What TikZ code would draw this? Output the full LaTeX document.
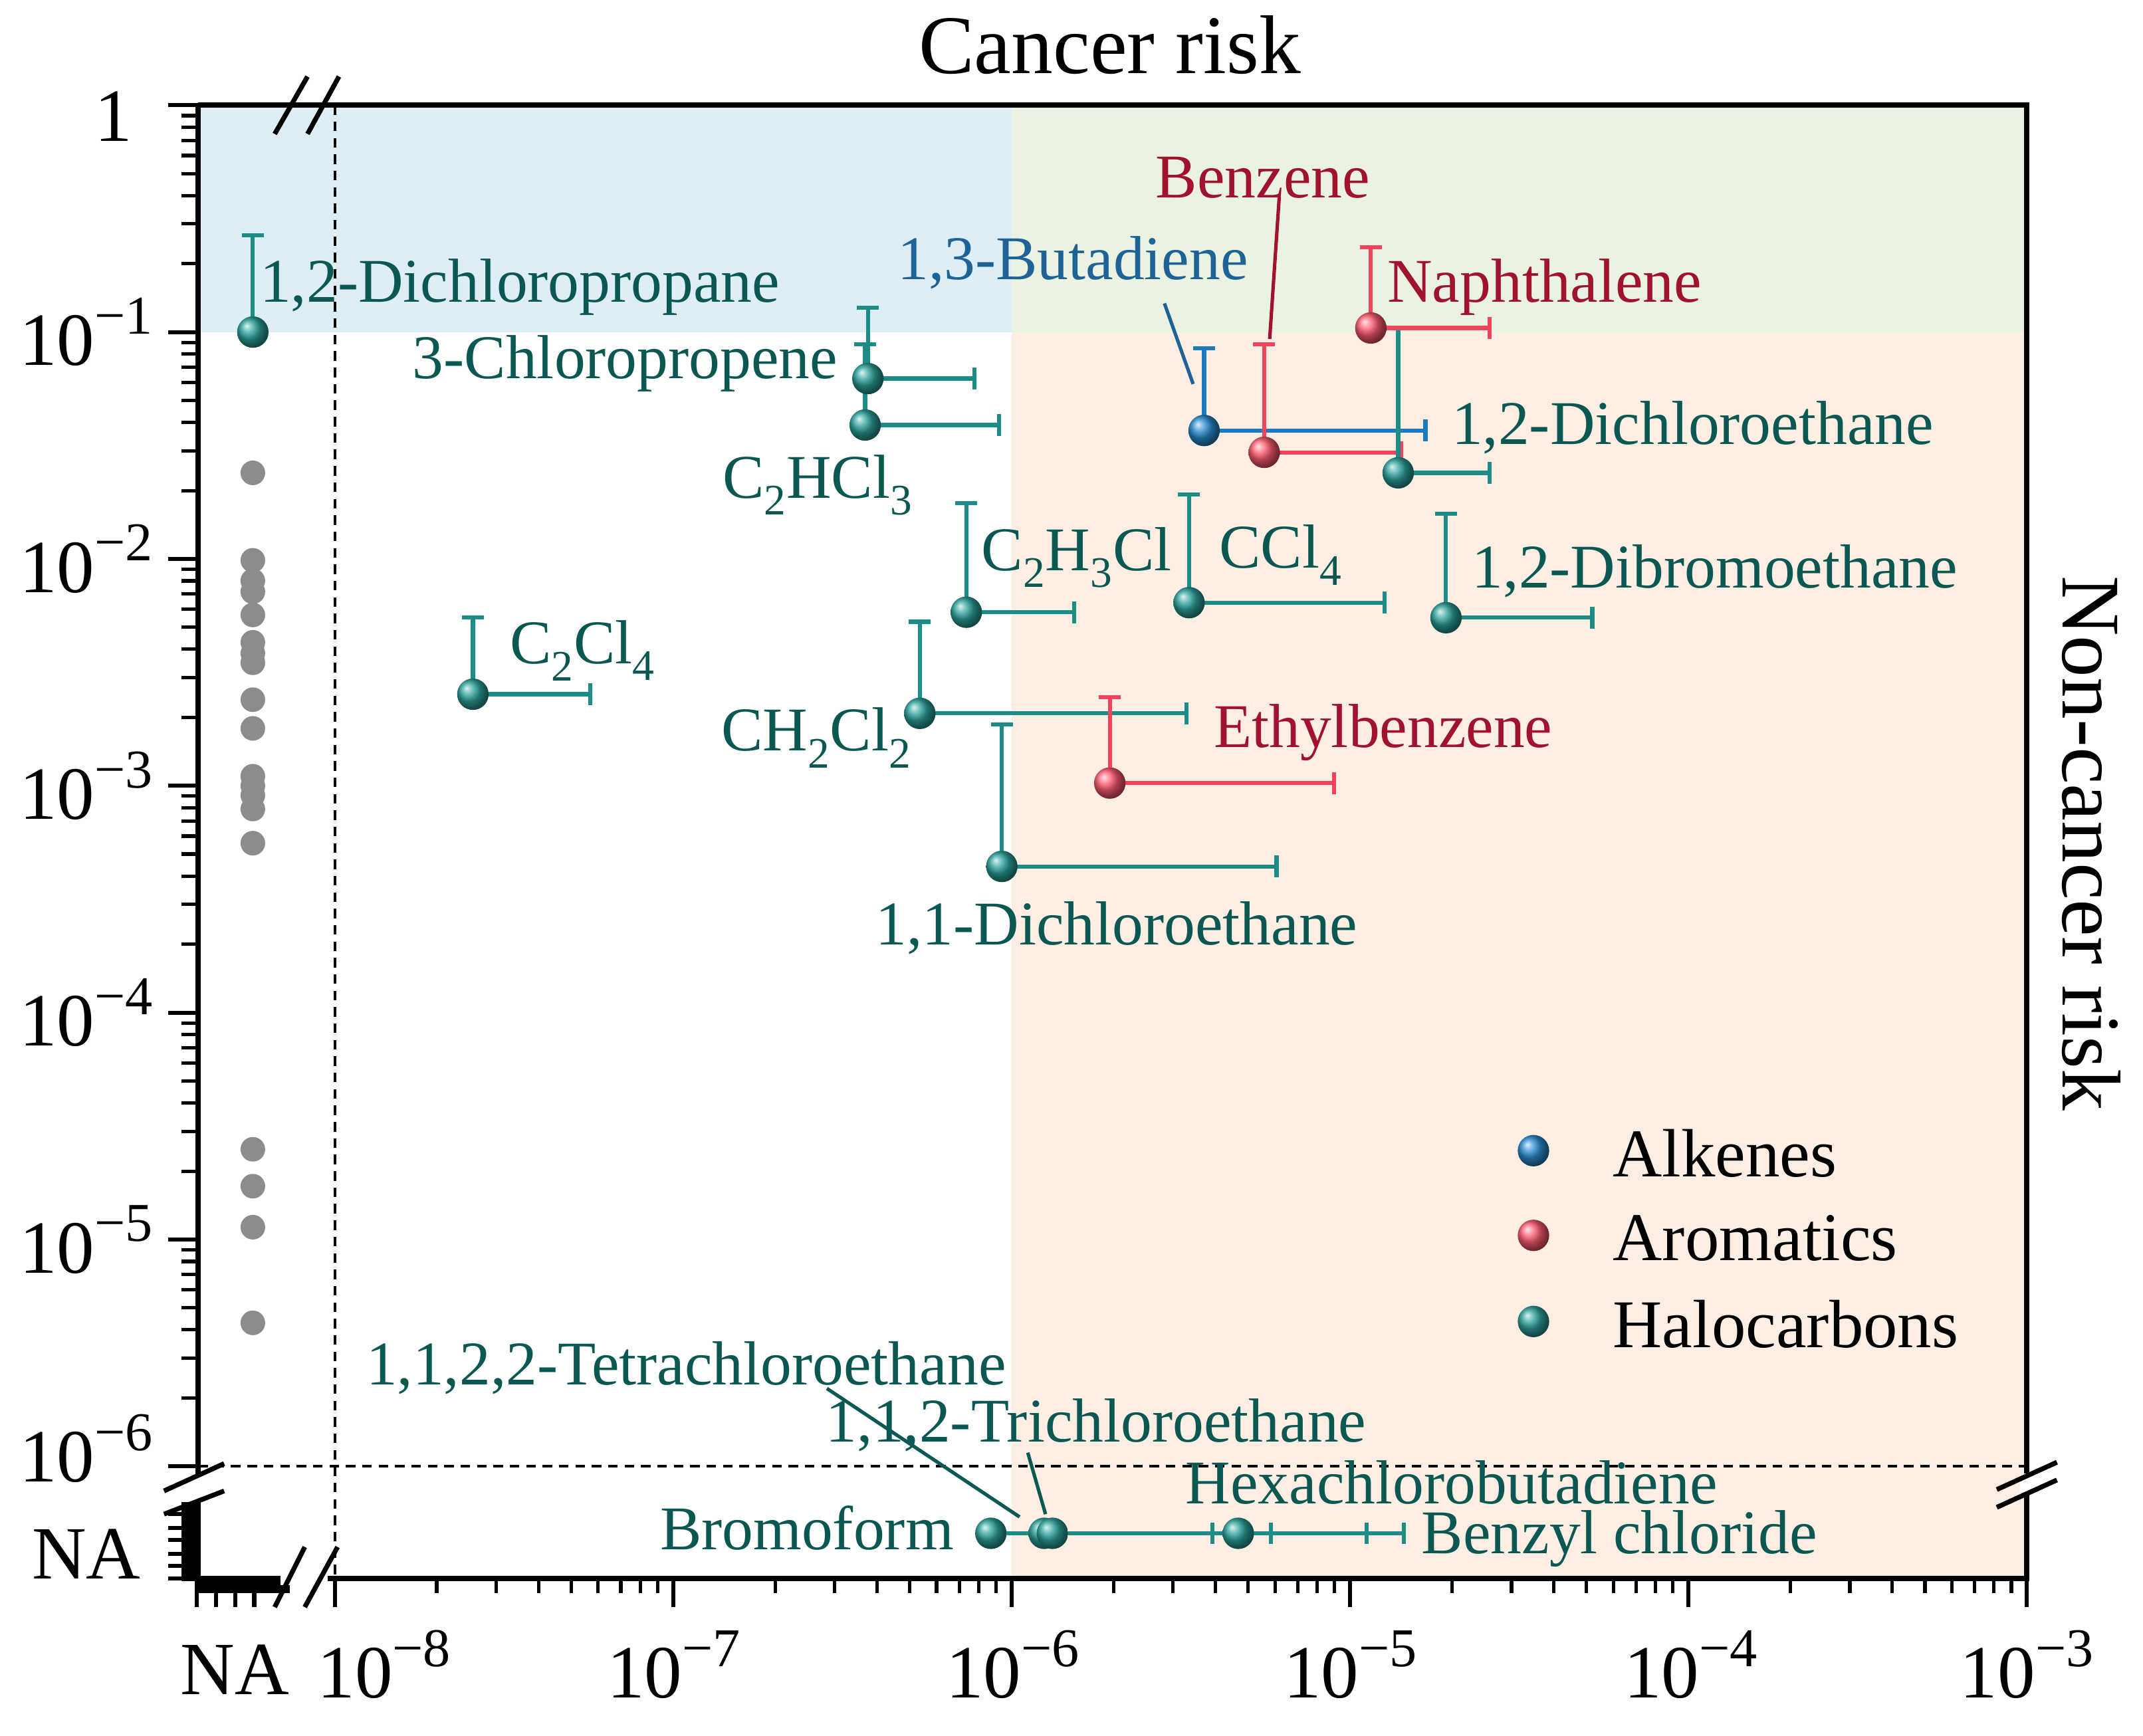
\documentclass[tikz,border=0pt]{standalone}
\usepackage{fontspec}
\setmainfont{Liberation Serif}
\usetikzlibrary{calc}
\definecolor{tealc}{HTML}{1E8C86}
\definecolor{tealb}{HTML}{2BA39C}
\definecolor{tealt}{HTML}{0B5752}
\definecolor{bluec}{HTML}{1A7BC0}
\definecolor{blueb}{HTML}{2A8CD0}
\definecolor{bluet}{HTML}{1F6396}
\definecolor{redc}{HTML}{F0445C}
\definecolor{redb}{HTML}{FF5A70}
\definecolor{redt}{HTML}{A0122E}
\definecolor{shblue}{HTML}{DDEEF7}
\definecolor{shgreen}{HTML}{EAF3E2}
\definecolor{shpeach}{HTML}{FDEEE4}
\newcommand{\tenx}[1]{10\raisebox{0.42em}{\fontsize{40}{40}\selectfont −#1}}
\newcommand{\lbfont}{\fontsize{45.5}{47}\selectfont}
\tikzset{
  ballt/.style={circle,minimum size=23pt,inner sep=0,shading=ball,ball color=tealb},
  ballb/.style={circle,minimum size=23pt,inner sep=0,shading=ball,ball color=blueb},
  ballr/.style={circle,minimum size=23pt,inner sep=0,shading=ball,ball color=redb},
  grayp/.style={circle,minimum size=18pt,inner sep=0,fill=gray!90},
  ebt/.style={tealc,line width=3pt},
  ebb/.style={bluec,line width=3pt},
  ebr/.style={redc,line width=3pt},
  lab/.style={inner sep=0,font=\lbfont},
  tick/.style={line width=3pt},
  ticklab/.style={inner sep=0,font=\fontsize{55}{57}\selectfont},
}
\begin{document}
\begin{tikzpicture}[x=1pt,y=-1pt]
\useasboundingbox (0,0) rectangle (1568,1270);
% shading
\fill[shblue] (145,77) rectangle (740,243);
\fill[shgreen] (740,77) rectangle (1483,243);
\fill[shpeach] (740,243) rectangle (1483,1155);
% dashed lines
\draw[line width=1.8pt,dash pattern=on 7pt off 5pt] (245,77) -- (245,1155);
\draw[line width=1.8pt,dash pattern=on 7pt off 5pt] (145,1073) -- (1483,1073);
% axes
\draw[line width=4pt] (145,77) -- (1483,77) -- (1483,1155) -- (145,1155) -- (145,1099);
\draw[line width=4pt] (145,1080) -- (145,77);
% y ticks
\foreach \d in {0,...,6}{
  \draw[tick] (145,77+166*\d) -- (123,77+166*\d);
  \ifnum\d<6
  \foreach \k in {2,...,9}{
    \draw[tick,line width=2.5pt] (145,{77+166*\d+166*(1-log10(\k))}) -- (133,{77+166*\d+166*(1-log10(\k))});
  }\fi
}
% y NA ticks
\fill (133,1099) rectangle (145,1157);
\foreach \yy in {1108,1118,1127,1137,1146,1155}{\draw[tick] (145,\yy) -- (123,\yy);}
% x ticks
\foreach \d in {0,...,5}{
  \draw[tick] (245+247.6*\d,1155) -- (245+247.6*\d,1176);
  \ifnum\d<5
  \foreach \k in {2,...,9}{
    \draw[tick,line width=2.5pt] ({245+247.6*\d+247.6*log10(\k)},1155) -- ({245+247.6*\d+247.6*log10(\k)},1166);
  }\fi
}
\fill (145,1155) rectangle (212,1166);
\foreach \xx in {144,158,172,186}{\draw[tick] (\xx,1155) -- (\xx,1176);}
% break marks
\begin{scope}[line width=3.5pt]
\fill[white] (205,1150) rectangle (240,1160);
\draw (201,1176) -- (223,1132); \draw (223,1176) -- (247,1132);
\draw (201,98) -- (225,56); \draw (225,98) -- (248,56);
\fill[white] (140,1080) rectangle (150,1099);
\draw (120,1091) -- (164,1071); \draw (120,1108) -- (164,1091);
\fill[white] (1478,1078) rectangle (1488,1094);
\draw (1461,1090) -- (1505,1070); \draw (1461,1103) -- (1505,1083);
\end{scope}
% tick labels
\node[ticklab,anchor=east] (y0) at (97,85) {1};
\node[ticklab,anchor=east] (y1) at (112,243) {\tenx{1}};
\node[ticklab,anchor=east] (y2) at (112,409) {\tenx{2}};
\node[ticklab,anchor=east] (y3) at (112,575) {\tenx{3}};
\node[ticklab,anchor=east] (y4) at (112,741) {\tenx{4}};
\node[ticklab,anchor=east] (y5) at (112,907) {\tenx{5}};
\node[ticklab,anchor=east] (y6) at (112,1060) {\tenx{6}};
\node[ticklab,anchor=east] (yna) at (103,1137) {NA};
\node[ticklab] (xna) at (172,1222) {NA};
\node[ticklab] (x8) at (281,1218) {\tenx{8}};
\node[ticklab] (x7) at (493,1218) {\tenx{7}};
\node[ticklab] (x6) at (741,1218) {\tenx{6}};
\node[ticklab] (x5) at (988,1218) {\tenx{5}};
\node[ticklab] (x4) at (1237,1218) {\tenx{4}};
\node[ticklab] (x3) at (1483,1218) {\tenx{3}};
\node[inner sep=0,font=\fontsize{61}{63}\selectfont] (title) at (812,33) {Cancer risk};
\node[inner sep=0,font=\fontsize{61}{63}\selectfont,rotate=-90] (ylab2) at (1530,617) {Non-cancer risk};
% gray points
\foreach \yy [count=\i] in {346,410,425,433,450,470,478,485,512,533,568,575,582,592,617,841,868,898,968}{
  \node[grayp] (g\i) at (185,\yy) {};
}
% error bars
\newcommand{\ebar}[5]{% style, x, y, ytop, xright
  \draw[#1] (#2,#3) -- (#2,#4); \draw[#1] (#2-8,#4) -- (#2+8,#4);
  \ifx\relax#5\relax\else\draw[#1] (#2,#3) -- (#5,#3); \draw[#1] (#5,#3-8) -- (#5,#3+8);\fi}
\ebar{ebt}{185}{243}{172}{}
\ebar{ebt}{635}{277}{225}{713}
\ebar{ebt}{633}{311}{252}{731}
\ebar{ebb}{881}{315}{255}{1043}
\ebar{ebr}{925}{331}{252}{1025}
\ebar{ebt}{1023}{346}{240}{1090}
\ebar{ebr}{1003}{240}{181}{1090}
\ebar{ebt}{707}{448}{368}{786}
\ebar{ebt}{870}{441}{362}{1013}
\ebar{ebt}{1058}{452}{376}{1165}
\ebar{ebt}{346}{508}{452}{432}
\ebar{ebt}{673}{522}{455}{868}
\ebar{ebr}{812}{573}{510}{976}
\ebar{ebt}{733}{634}{530}{934}
\draw[ebt] (725,1122) -- (1027,1122);
\foreach \xx in {887,930,1000,1027}{\draw[ebt] (\xx,1114) -- (\xx,1130);}
% points
\node[ballt] (p1) at (185,243) {};
\node[ballt] (p2) at (635,277) {};
\node[ballt] (p3) at (633,311) {};
\node[ballb] (p4) at (881,315) {};
\node[ballr] (p5) at (925,331) {};
\node[ballt] (p6) at (1023,346) {};
\node[ballr] (p7) at (1003,240) {};
\node[ballt] (p8) at (707,448) {};
\node[ballt] (p9) at (870,441) {};
\node[ballt] (p10) at (1058,452) {};
\node[ballt] (p11) at (346,508) {};
\node[ballt] (p12) at (673,522) {};
\node[ballr] (p13) at (812,573) {};
\node[ballt] (p14) at (733,634) {};
\node[ballt] (q1) at (725,1122) {};
\node[ballt] (q2) at (764,1122) {};
\node[ballt] (q3) at (770,1122) {};
\node[ballt] (q4) at (906,1122) {};
% labels
\begin{scope}[tealt]
\node[lab,anchor=west] (l1) at (190,210) {1,2-Dichloropropane};
\node[lab,anchor=east] (l2) at (613,266) {3-Chloropropene};
\node[lab,anchor=east] (l3) at (668,355) {C\textsubscript{2}HCl\textsubscript{3}};
\node[lab,anchor=west] (l6) at (1062,313) {1,2-Dichloroethane};
\node[lab,anchor=west] (l8) at (718,408) {C\textsubscript{2}H\textsubscript{3}Cl};
\node[lab,anchor=west] (l9) at (892,406) {CCl\textsubscript{4}};
\node[lab,anchor=west] (l10) at (1077,418) {1,2-Dibromoethane};
\node[lab,anchor=west] (l11) at (373,476) {C\textsubscript{2}Cl\textsubscript{4}};
\node[lab,anchor=east] (l12) at (667,540) {CH\textsubscript{2}Cl\textsubscript{2}};
\node[lab] (l14) at (817,679) {1,1-Dichloroethane};
\node[lab] (lq3) at (502,1001) {1,1,2,2-Tetrachloroethane};
\node[lab] (lq2) at (802,1043) {1,1,2-Trichloroethane};
\node[lab] (lq4) at (1062,1085) {Hexachlorobutadiene};
\node[lab,anchor=east] (lq1) at (698,1118) {Bromoform};
\node[lab,anchor=west] (lq5) at (1040,1126) {Benzyl chloride};
\end{scope}
\node[lab,bluet] (l4) at (785,192) {1,3-Butadiene};
\node[lab,redt] (l5) at (924,130) {Benzene};
\node[lab,redt,anchor=west] (l7) at (1015,210) {Naphthalene};
\node[lab,redt,anchor=west] (l13) at (888,536) {Ethylbenzene};
% leaders
\draw[bluet,line width=2.5pt] (852,222) -- (873,281);
\draw[redt,line width=2.5pt] (936,144) -- (929,248);
\draw[tealt,line width=2.5pt] (605,1016) -- (746,1110);
\draw[tealt,line width=2.5pt] (752,1063) -- (765,1108);
% legend
\node[ballb] (k1) at (1122,842) {};
\node[ballr] (k2) at (1122,904) {};
\node[ballt] (k3) at (1122,967) {};
\node[inner sep=0,anchor=west,font=\fontsize{50}{52}\selectfont] (t1) at (1180,844) {Alkenes};
\node[inner sep=0,anchor=west,font=\fontsize{50}{52}\selectfont] (t2) at (1180,906) {Aromatics};
\node[inner sep=0,anchor=west,font=\fontsize{50}{52}\selectfont] (t3) at (1180,969) {Halocarbons};
\end{tikzpicture}
\end{document}
